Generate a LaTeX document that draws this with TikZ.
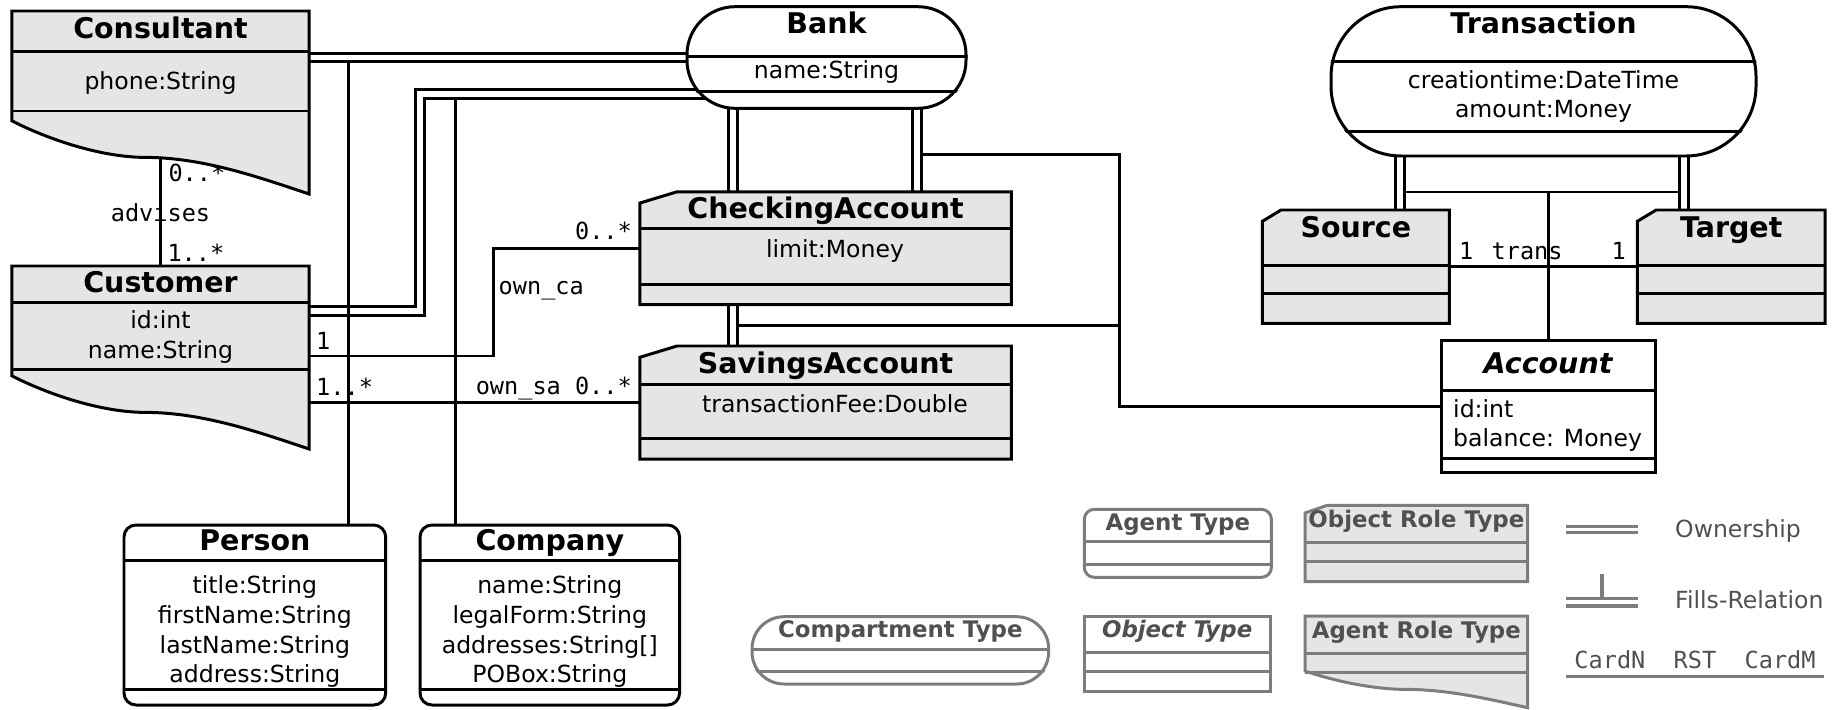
\documentclass[tikz,border=0pt]{standalone}
\usepackage{fontspec}
\setmainfont{DejaVu Sans}
\setmonofont{DejaVu Sans Mono}
\usetikzlibrary{calc, fit, backgrounds}

\definecolor{rolegray}{RGB}{229,229,229}
\definecolor{leggray}{RGB}{125,125,125}
\definecolor{legtext}{RGB}{80,80,80}

\tikzstyle{umlbox} = [draw=black, line width=0.85pt, inner sep=0pt]
\tikzstyle{titletext} = [anchor=base, inner sep=0pt, font=\fontsize{8.1}{9.7}\selectfont\bfseries]
\tikzstyle{attr} = [anchor=base, inner sep=0pt, font=\fontsize{6.7}{8}\selectfont]
\tikzstyle{card} = [inner sep=0pt, font=\ttfamily\fontsize{6.7}{8}\selectfont]
\tikzstyle{own} = [double, double distance=1.7pt, line width=0.85pt]
\tikzstyle{fills} = [line width=0.85pt]
\tikzstyle{legline} = [draw=leggray, line width=0.9pt]
\tikzstyle{legtitle} = [anchor=base, inner sep=0pt, text=legtext, font=\fontsize{6.5}{8}\selectfont\bfseries]
\tikzstyle{legtxt} = [anchor=base west, inner sep=0pt, text=legtext, font=\fontsize{6.7}{8}\selectfont]

% two compartment lines, offsets from the top of the box
\newcommand{\seps}[4][]{\draw[umlbox, #1] ($(#2.north west)+(0,#3)$) -- ($(#2.north east)+(0,#3)$) ($(#2.north west)+(0,#4)$) -- ($(#2.north east)+(0,#4)$);}
% same, cut to a rounded box
\newcommand{\cseps}[5][]{\begin{scope}\clip[rounded corners=#3] (#2.north west) rectangle (#2.south east); \seps[#1]{#2}{#4}{#5}\end{scope}}
% agent role: wavy bottom
\newcommand{\waveshape}[2][]{\draw[umlbox, fill=rolegray, #1] let \p1=(#2.north west), \p2=(#2.south east), \n1={\x2-\x1}, \n2={\y1-\y2} in
  (\x1,\y1) -- (\x2,\y1) -- (\x2,\y2)
  .. controls ({\x2-0.15*\n1},{\y2+0.08*\n2}) and ({\x1+0.65*\n1},{\y2+0.2*\n2}) .. ({\x1+0.45*\n1},{\y2+0.2*\n2})
  .. controls ({\x1+0.3*\n1},{\y2+0.2*\n2}) and ({\x1+0.12*\n1},{\y2+0.3*\n2}) .. (\x1,{\y2+0.4*\n2}) -- cycle;}
% object role: cut corner
\newcommand{\roleshape}[2][]{\draw[umlbox, fill=rolegray, #1] let \p1=(#2.north west), \p2=(#2.south east) in
  (\x1,\y2) -- (\x1,{\y1-0.1*(\y1-\y2)}) -- ({\x1+0.1*(\x2-\x1)},\y1) -- (\x2,\y1) -- (\x2,\y2) -- cycle;}

\begin{document}
\begin{tikzpicture}[x=0.01cm, y=-0.01cm]
\useasboundingbox (0,0) rectangle (1840,709);

% compartment types
\node[umlbox, fill=white, rounded corners=0.48cm, fit={(687,6.7) (966,108.3)}] (bank) {};
\cseps{bank}{0.48cm}{51.6}{86}
\node[titletext] (bank-t) at ($(bank.north)+(0,28.3)$) {Bank};
\node[attr] (bank-a) at ($(bank.north)+(0,73.5)$) {name:String};

\node[umlbox, fill=white, rounded corners=0.7cm, fit={(1331,6.7) (1756,156)}] (trans) {};
\cseps{trans}{0.7cm}{56.6}{126.6}
\node[titletext] (trans-t) at ($(trans.north)+(0,28.3)$) {Transaction};
\node[attr] (trans-a1) at ($(trans.north)+(0,83.5)$) {creationtime:DateTime};
\node[attr] (trans-a2) at ($(trans.north)+(0,111.8)$) {amount:Money};

% agent roles
\node[fit={(12.5,11.7) (308.5,193.3)}, inner sep=0pt] (cons) {};
\waveshape{cons}
\seps{cons}{40.6}{100}
\node[titletext] (cons-t) at ($(cons.north)+(0,27.6)$) {Consultant};
\node[attr] (cons-a) at ($(cons.north)+(0,78.5)$) {phone:String};

\node[fit={(12.5,266.7) (308.5,448.3)}, inner sep=0pt] (cust) {};
\waveshape{cust}
\seps{cust}{36.6}{103.3}
\node[titletext] (cust-t) at ($(cust.north)+(0,26.6)$) {Customer};
\node[attr] (cust-a1) at ($(cust.north)+(0,62.5)$) {id:int};
\node[attr] (cust-a2) at ($(cust.north)+(0,92.5)$) {name:String};

% object roles
\node[fit={(640.5,192.5) (1010.7,304)}, inner sep=0pt] (ca) {};
\roleshape{ca}
\seps{ca}{36.8}{92.5}
\node[titletext] (ca-t) at ($(ca.north)+(0,26.8)$) {CheckingAccount};
\node[attr] (ca-a) at ($(ca.north)+(9.4,66)$) {limit:Money};

\node[fit={(640.5,346.7) (1010.7,458.3)}, inner sep=0pt] (sa) {};
\roleshape{sa}
\seps{sa}{38.3}{92.6}
\node[titletext] (sa-t) at ($(sa.north)+(0,27.3)$) {SavingsAccount};
\node[attr] (sa-a) at ($(sa.north)+(9.4,66.8)$) {transactionFee:Double};

\node[fit={(1263,210.7) (1448.6,322.7)}, inner sep=0pt] (source) {};
\roleshape{source}
\seps{source}{55.3}{83.6}
\node[titletext] (source-t) at ($(source.north)+(0,27.6)$) {Source};

\node[fit={(1638,210.7) (1824.4,322.7)}, inner sep=0pt] (target) {};
\roleshape{target}
\seps{target}{55.3}{83.6}
\node[titletext] (target-t) at ($(target.north)+(0,27.6)$) {Target};

% object type
\node[umlbox, fill=white, fit={(1441,340) (1655,472.7)}] (acc) {};
\seps{acc}{51.7}{120}
\node[titletext, font=\fontsize{8.1}{9.7}\selectfont\bfseries\itshape] (acc-t) at ($(acc.north)+(0,35)$) {Account};
\node[attr, anchor=base west] (acc-a1) at ($(acc.north west)+(13,78.5)$) {id:int};
\node[attr, anchor=base west] (acc-a2) at ($(acc.north west)+(13,107.8)$) {balance: Money};

% agent types
\node[umlbox, fill=white, rounded corners=0.12cm, fit={(124,525) (385.7,705)}] (person) {};
\seps{person}{36.7}{165.7}
\node[titletext] (person-t) at ($(person.north)+(0,26.7)$) {Person};
\node[attr] (person-a1) at ($(person.north)+(0,70.2)$) {title:String};
\node[attr] (person-a2) at ($(person.north)+(0,100.2)$) {firstName:String};
\node[attr] (person-a3) at ($(person.north)+(0,129.5)$) {lastName:String};
\node[attr] (person-a4) at ($(person.north)+(0,158.5)$) {address:String};

\node[umlbox, fill=white, rounded corners=0.12cm, fit={(420,525) (679.6,705)}] (company) {};
\seps{company}{36.7}{165.7}
\node[titletext] (company-t) at ($(company.north)+(0,26.7)$) {Company};
\node[attr] (company-a1) at ($(company.north)+(0,70.2)$) {name:String};
\node[attr] (company-a2) at ($(company.north)+(0,100.2)$) {legalForm:String};
\node[attr] (company-a3) at ($(company.north)+(0,129.5)$) {addresses:String[]};
\node[attr] (company-a4) at ($(company.north)+(0,158.5)$) {POBox:String};

% legend
\node[umlbox, draw=leggray, fill=white, rounded corners=0.1cm, fit={(1084.3,509.3) (1271.4,577.3)}] (lagent) {};
\seps[draw=leggray]{lagent}{34}{56.7}
\node[legtitle] (lagent-t) at ($(lagent.north)+(0,22.4)$) {Agent Type};

\node[fit={(1305.7,506) (1527,581)}, inner sep=0pt] (lorole) {};
\roleshape[draw=leggray]{lorole}
\seps[draw=leggray]{lorole}{37.3}{55.7}
\node[legtitle] (lorole-t) at ($(lorole.north)+(0,22)$) {Object Role Type};

\node[umlbox, draw=leggray, fill=white, rounded corners=0.32cm, fit={(752,616.7) (1048.6,684)}] (lcomp) {};
\cseps[draw=leggray]{lcomp}{0.32cm}{34}{56}
\node[legtitle] (lcomp-t) at ($(lcomp.north)+(0,22.3)$) {Compartment Type};

\node[umlbox, draw=leggray, fill=white, fit={(1084.3,616.7) (1270,691.7)}] (lobj) {};
\seps[draw=leggray]{lobj}{37.3}{56}
\node[legtitle, font=\fontsize{6.5}{8}\selectfont\bfseries\itshape] (lobj-t) at ($(lobj.north)+(0,22.3)$) {Object Type};

\node[fit={(1305.7,616.7) (1527,707)}, inner sep=0pt] (larole) {};
\waveshape[draw=leggray]{larole}
\seps[draw=leggray]{larole}{37.3}{56}
\node[legtitle] (larole-t) at ($(larole.north)+(0,22.3)$) {Agent Role Type};

\node[legtxt] (leg-own) at (1674.5,537.3) {Ownership};
\draw[legline, double, double distance=0.8pt] ($(leg-own.base west)+(-108.5,-7.6)$) -- ++(72,0);
\node[legtxt] (leg-fill) at (1674.5,608) {Fills-Relation};
\draw[legline, double, double distance=1.3pt] ($(leg-fill.base west)+(-108.5,-5.8)$) coordinate (lf) -- ++(72,0);
\draw[legline] ($(lf)+(36,-3.9)$) -- ++(0,-24.3);
\node[legtxt, anchor=base, font=\ttfamily\fontsize{6.7}{8}\selectfont] (leg-card) at (1695,668.3) {CardN~~RST~~CardM};
\draw[legline] ($(leg-card.base)+(-129,8.4)$) -- ++(257.6,0);

\begin{pgfonlayer}{background}
% ownership
\draw[own] (cons.east |- bank.west) -- (bank.west);
\draw[own] ($(cust.north east)+(0,44.6)$) -- ++(110.5,0) |- ($(bank.south)+(0,-16)$);
\draw[own] ($(ca.north west)+(93,0)$) coordinate (ca1) -- (ca1 |- bank.center);
\draw[own] ($(ca.north west)+(277,0)$) coordinate (ca2) -- (ca2 |- bank.center);
\draw[own] (ca1 |- ca.south) -- (ca1 |- sa.north);
\draw[own] ($(source.north west)+(138,0)$) coordinate (src1) -- (src1 |- trans.center);
\draw[own] ($(target.north west)+(46.3,0)$) coordinate (tgt1) -- (tgt1 |- trans.center);

% fills
\draw[fills] ($(person.north east)+(-39,0)$) coordinate (p1) -- ($(p1 |- bank.west)+(0,4.48)$);
\draw[fills] ($(company.north west)+(36.9,0)$) coordinate (c1) -- ($(c1 |- bank.south)+(0,-11.52)$);
\coordinate (fj) at ($(acc.west)+(-319.6,0)$);
\draw[fills] (acc.west) -- (fj) |- ($(ca2 |- ca.north)+(4.48,-37.5)$);
\draw[fills] ($(ca1 |- ca.south)+(4.48,21)$) -| (fj);
\draw[fills] ($(src1)+(4.48,-18)$) coordinate (tl) -- ($(tgt1)+(-4.48,-18)$);
\draw[fills] (acc.north) -- (acc.north |- tl);

% relationships
\draw[fills] (cons.center) -- (cons.center |- cust.center)
  node[card, pos=0.3106, anchor=base west, xshift=0.065cm] (adv-n) {0..*}
  node[card, pos=0.4675, anchor=base] (adv) {advises}
  node[card, pos=0.6243, anchor=base west, xshift=0.055cm] (adv-m) {1..*};
\draw[fills] ($(cust.north east)+(0,90)$) node[card, anchor=base west, xshift=0.055cm, yshift=0.067cm] (oc-n) {1}
  -- ++(184.5,0) |- node[card, pos=0.287, anchor=base west, xshift=0.035cm] (oc) {own\_ca} (ca.west)
  node[card, anchor=base east, xshift=-0.065cm, yshift=0.083cm] (oc-m) {0..*};
\draw[fills] (cust.east |- sa.west) node[card, anchor=base west, xshift=0.055cm, yshift=0.075cm] (os-n) {1..*}
  -- (sa.west) node[card, anchor=base east, xshift=-0.065cm, yshift=0.085cm] (os) {own\_sa 0..*};
\draw[fills] (source.east) node[card, anchor=base west, xshift=0.082cm, yshift=0.074cm] (tr-n) {1}
  -- node[card, pos=0.414, anchor=base, yshift=0.074cm] (tr) {trans} (target.west)
  node[card, anchor=base east, xshift=-0.101cm, yshift=0.074cm] (tr-m) {1};
\end{pgfonlayer}

\end{tikzpicture}
\end{document}
